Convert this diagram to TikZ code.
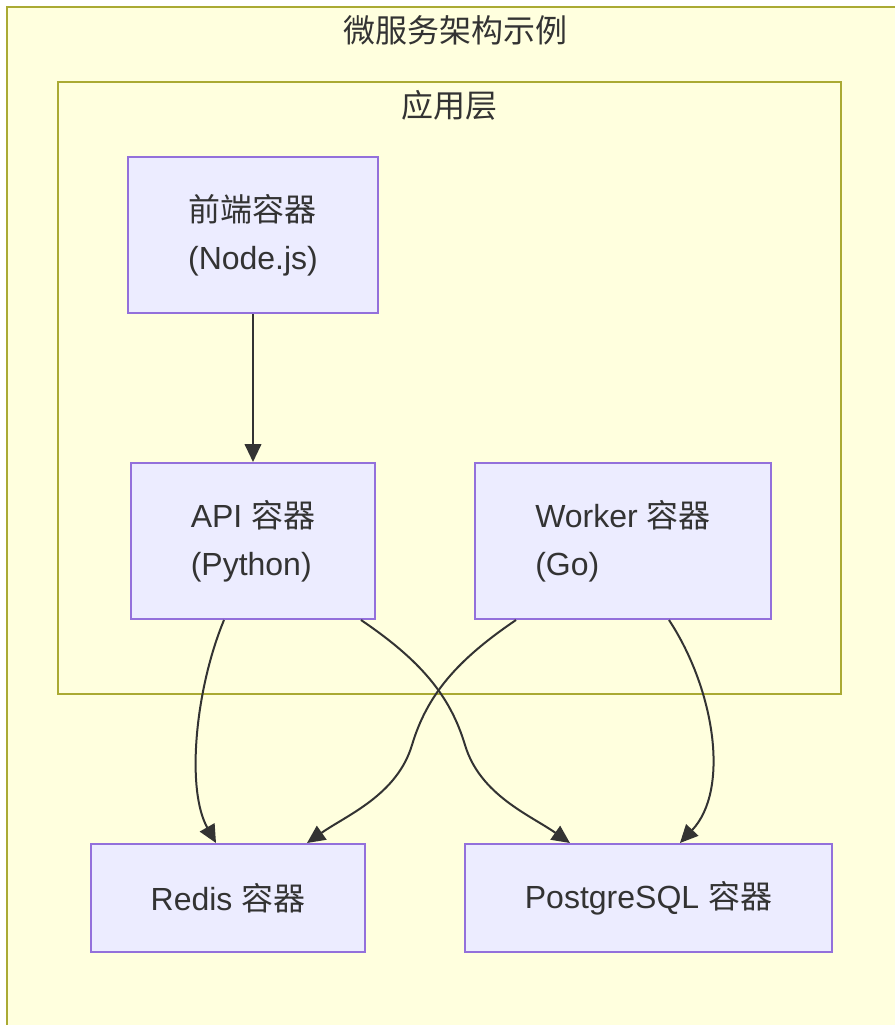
\documentclass[tikz,border=0pt]{standalone}
\usepackage{fontspec}
\setmainfont{Liberation Sans}
\newfontfamily\cjk{Noto Sans CJK SC}
\usetikzlibrary{arrows.meta}
\definecolor{clusterfill}{HTML}{FFFFDE}
\definecolor{clusterline}{HTML}{AAAA33}
\definecolor{nodefill}{HTML}{ECECFF}
\definecolor{nodeline}{HTML}{9370DB}
\definecolor{txt}{HTML}{333333}
\begin{document}
\begin{tikzpicture}[x=0.75pt,y=-0.75pt,
  cluster/.style={fill=clusterfill,draw=clusterline,line width=1.2pt},
  box/.style={rectangle,fill=nodefill,draw=nodeline,line width=1.5pt,text=txt,align=left,font=\fontsize{24}{36}\selectfont,inner sep=0pt},
  lbl/.style={text=txt,font=\cjk\fontsize{24}{36}\selectfont,inner sep=0pt},
  link/.style={draw=txt,line width=1.5pt,-{Triangle[length=13.5pt,width=12.5pt]}}]
\useasboundingbox (0,0) rectangle (895,1025);
\fill[white] (0,0) rectangle (895,1025);
\clip (0,0) rectangle (895,1025);
% clusters
\draw[cluster] (7,7) rectangle (910,1040);
\node[lbl] (outertitle) at (455.5,30) {微服务架构示例};
\draw[cluster] (58,82) rectangle (841,694);
\node[lbl] (apptitle) at (449.5,105) {应用层};
% nodes
\node[box,minimum width=187.5pt,minimum height=117pt] (front) at (253,235) {{\cjk 前端容器}\\(Node.js)};
\node[box,minimum width=183pt,minimum height=117pt] (api) at (253,541) {API {\cjk 容器}\\(Python)};
\node[box,minimum width=222pt,minimum height=117pt] (worker) at (623,541) {Worker {\cjk 容器}\\(Go)};
\node[box,minimum width=205.5pt,minimum height=81pt] (redis) at (228,898) {Redis {\cjk 容器}};
\node[box,minimum width=275.25pt,minimum height=81pt] (pg) at (648.5,898) {PostgreSQL {\cjk 容器}};
% links
\draw[link] (front.south) -- (api.north);
\draw[link] ([xshift=-21.75pt]api.south) .. controls (195,690) and (186,790) .. ([xshift=-9pt]redis.north);
\draw[link] ([xshift=81pt]api.south) .. controls (420,660) and (450,695) .. (465,745) .. controls (480,795) and (530,815) .. ([xshift=-58.9pt]pg.north);
\draw[link] ([xshift=-80.25pt]worker.south) .. controls (457,660) and (427,695) .. (412,745) .. controls (397,795) and (347,815) .. ([xshift=59.25pt]redis.north);
\draw[link] ([xshift=34.5pt]worker.south) .. controls (715,690) and (730,790) .. ([xshift=23.6pt]pg.north);
\end{tikzpicture}
\end{document}
